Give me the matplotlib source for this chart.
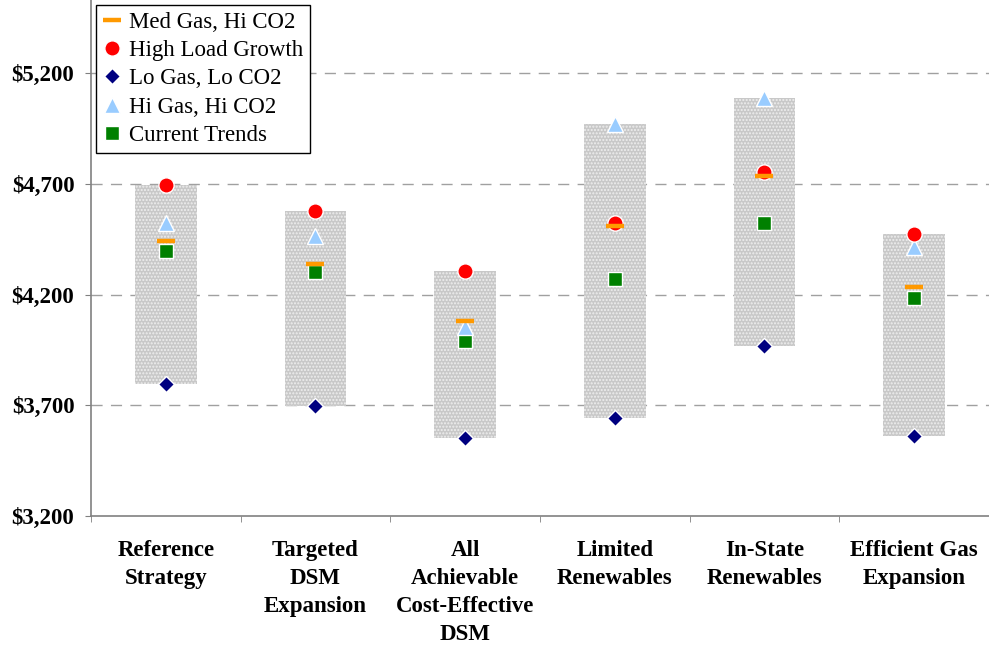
import matplotlib
matplotlib.use("Agg")
import matplotlib.pyplot as plt
from matplotlib.ticker import FuncFormatter
import numpy as np

categories = ["Reference\nStrategy", "Targeted\nDSM\nExpansion", "All\nAchievable\nCost-Effective\nDSM",
              "Limited\nRenewables", "In-State\nRenewables", "Efficient Gas\nExpansion"]
med_gas_hi_co2 = [4440, 4339, 4080, 4509, 4735, 4232]
high_load_growth = [4695, 4578, 4307, 4524, 4754, 4473]
lo_gas_lo_co2 = [3795, 3695, 3550, 3642, 3969, 3561]
hi_gas_hi_co2 = [4524, 4464, 4052, 4968, 5087, 4416]
current_trends = [4396, 4302, 3991, 4270, 4521, 4183]
yticks = [3200, 3700, 4200, 4700, 5200]

plt.rcParams['font.family'] = ['Liberation Serif', 'DejaVu Serif']
plt.rcParams['hatch.linewidth'] = 1.0

fig = plt.figure(figsize=(9.89, 6.49), dpi=100)
ax = fig.add_axes([0.092, 0.205, 0.908, 0.795])

x = np.arange(len(categories))
allv = np.array([med_gas_hi_co2, high_load_growth, lo_gas_lo_co2, hi_gas_hi_co2, current_trends])
lo = allv.min(axis=0)
hi = allv.max(axis=0)
ax.bar(x, hi - lo, bottom=lo, width=0.41, color='#c8c8c8', edgecolor='#eeeeee',
       hatch='.....', linewidth=0, zorder=2)

ms_kw = dict(linestyle='none', markeredgecolor='white', markeredgewidth=1.0, zorder=3)
h_ct, = ax.plot(x, current_trends, marker='s', color='#008000', markersize=10.5, label='Current Trends', **ms_kw)
h_hg, = ax.plot(x, hi_gas_hi_co2, marker='^', color='#99ccff', markersize=11.5, label='Hi Gas, Hi CO2', **ms_kw)
h_lg, = ax.plot(x, lo_gas_lo_co2, marker='D', color='#000080', markersize=8, label='Lo Gas, Lo CO2', **ms_kw)
h_hl, = ax.plot(x, high_load_growth, marker='o', color='#ff0000', markersize=11, label='High Load Growth', **ms_kw)
h_mg, = ax.plot(x, med_gas_hi_co2, marker='_', color='#ff9900', markersize=13, markeredgewidth=3.2,
                linestyle='none', zorder=4, label='Med Gas, Hi CO2')

ax.set_xlim(-0.5, len(categories) - 0.5)
ax.set_ylim(3200, 5530)
ax.set_yticks(yticks)
ax.yaxis.set_major_formatter(FuncFormatter(lambda v, p: "${:,.0f}".format(v)))
ax.set_xticks(x)
ax.set_xticklabels(categories, fontweight='bold', fontsize=16.5, linespacing=1.45, va='top')
ax.set_xticks(np.arange(len(categories) + 1) - 0.5, minor=True)
ax.tick_params(axis='x', which='major', length=0, pad=17)
ax.tick_params(axis='x', which='minor', length=4.5, direction='out', color='#808080')
ax.tick_params(axis='y', length=4.5, direction='out', color='#808080', labelsize=16.5, pad=7.5)
for lab in ax.get_yticklabels():
    lab.set_fontweight('bold')

for v in yticks[1:]:
    ax.axhline(v, color='#a0a0a0', linewidth=1.0, linestyle=(0, (8, 6)), zorder=1)

for s in ['top', 'right']:
    ax.spines[s].set_visible(False)
for s in ['left', 'bottom']:
    ax.spines[s].set_color('#808080')
    ax.spines[s].set_linewidth(1.2)

leg = ax.legend(handles=[h_mg, h_hl, h_lg, h_hg, h_ct], loc='upper left',
                bbox_to_anchor=(0.006, 0.99), fontsize=16.5, frameon=True, fancybox=False,
                edgecolor='black', framealpha=1, borderpad=0.28, labelspacing=0.32,
                handlelength=0.8, handletextpad=0.35, borderaxespad=0)
leg.get_frame().set_linewidth(1.0)

fig.savefig("out.png", dpi=100)
